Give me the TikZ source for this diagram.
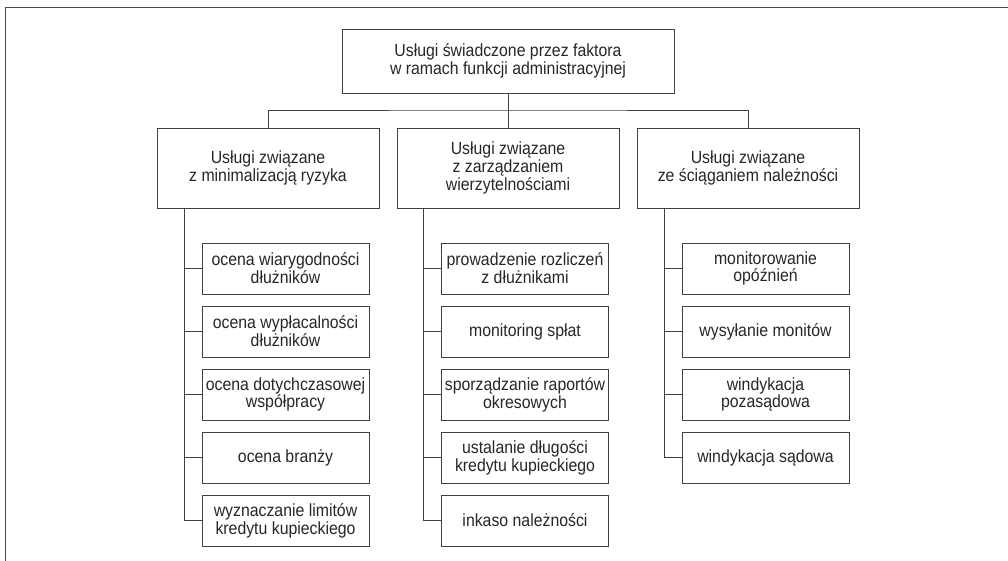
\documentclass[tikz,border=0pt]{standalone}
\usepackage{fontspec}
\setmainfont{Liberation Sans}[FakeStretch=0.9]
\begin{document}
\begin{tikzpicture}[x=1pt,y=-1pt,
  every node/.style={font=\fontsize{17.6}{17.8}\selectfont, text=black!85},
  box/.style={draw=black!75, line width=0.9pt, align=center, inner sep=0pt},
  topbox/.style={box, minimum width=332, minimum height=64},
  catbox/.style={box, minimum width=222, minimum height=80},
  leafbox/.style={box, minimum width=167, minimum height=51},
  link/.style={draw=black!75, line width=0.9pt}]
\useasboundingbox (0,0) rectangle (1008,561);
% outer frame (top and left edges)
\draw[black!70, line width=0.9pt] (5.5,561) -- (5.5,7.5) -- (1008,7.5);

% root
\node[topbox] (root) at (508,61) {Usługi świadczone przez faktora\\w ramach funkcji administracyjnej};

% categories
\node[catbox] (c1) at (268,168) {Usługi związane\\z minimalizacją ryzyka};
\node[catbox] (c2) at (508,168) {Usługi związane\\z zarządzaniem\\wierzytelnościami};
\node[catbox] (c3) at (748,168) {Usługi związane\\ze ściąganiem należności};

\coordinate (bar) at (508,110);
\draw[link] (root.south) -- (bar);
\draw[link] (c1.north) |- (bar) -| (c3.north);
\draw[link] (bar) -- (c2.north);

% leaves of the first category
\node[leafbox] (a1) at (285.5,268.5) {ocena wiarygodności\\dłużników};
\node[leafbox] (a2) at (285.5,331.5) {ocena wypłacalności\\dłużników};
\node[leafbox] (a3) at (285.5,394.5) {ocena dotychczasowej\\współpracy};
\node[leafbox] (a4) at (285.5,457.5) {ocena branży};
\node[leafbox] (a5) at (285.5,520.5) {wyznaczanie limitów\\kredytu kupieckiego};

% leaves of the second category
\node[leafbox] (b1) at (525,268.5) {prowadzenie rozliczeń\\z dłużnikami};
\node[leafbox] (b2) at (525,331.5) {monitoring spłat};
\node[leafbox] (b3) at (525,394.5) {sporządzanie raportów\\okresowych};
\node[leafbox] (b4) at (525,457.5) {ustalanie długości\\kredytu kupieckiego};
\node[leafbox] (b5) at (525,520.5) {inkaso należności};

% leaves of the third category
\node[leafbox] (d1) at (765.5,268.5) {monitorowanie\\opóźnień};
\node[leafbox] (d2) at (765.5,331.5) {wysyłanie monitów};
\node[leafbox] (d3) at (765.5,394.5) {windykacja\\pozasądowa};
\node[leafbox] (d4) at (765.5,457.5) {windykacja sądowa};

% spines
\coordinate (s1) at (184,208);
\coordinate (s2) at (423,208);
\coordinate (s3) at (664,208);
\draw[link] (s1) |- (a5.west);
\foreach \n in {a1,a2,a3,a4} \draw[link] (\n.west) -- (s1 |- \n.west);
\draw[link] (s2) |- (b5.west);
\foreach \n in {b1,b2,b3,b4} \draw[link] (\n.west) -- (s2 |- \n.west);
\draw[link] (s3) |- (d4.west);
\foreach \n in {d1,d2,d3} \draw[link] (\n.west) -- (s3 |- \n.west);
\end{tikzpicture}
\end{document}
